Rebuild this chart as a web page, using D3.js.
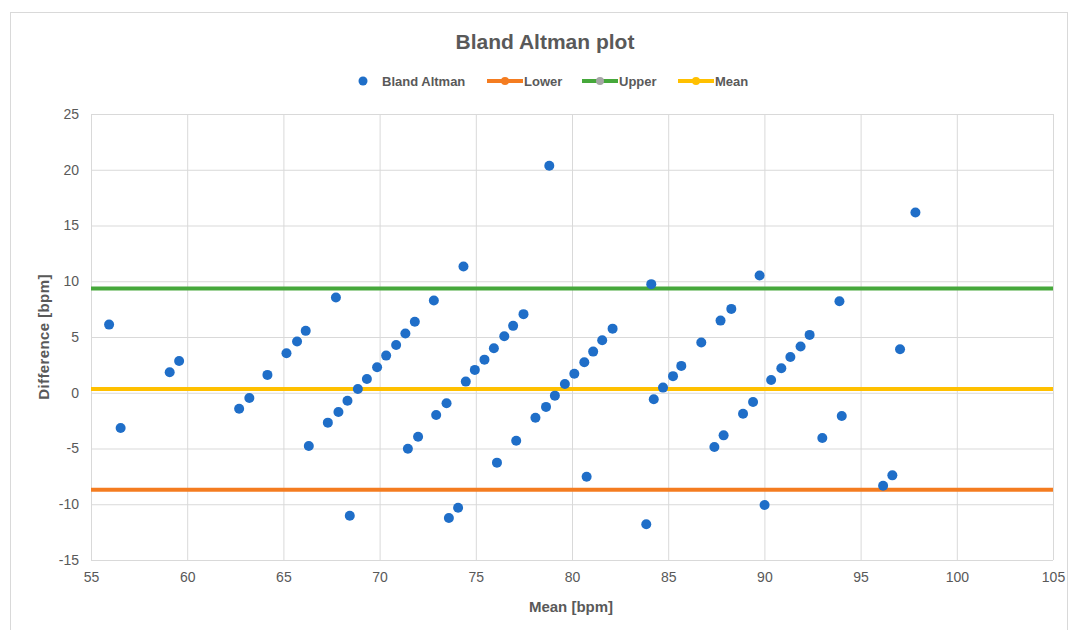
<!DOCTYPE html>
<html>
<head>
  <meta charset="utf-8">
  <title>Bland Altman plot</title>
  <style>
    body { margin: 0; background: #fff; }
    text { font-family: "Liberation Sans", Arial, sans-serif; fill: #595959; }
  </style>
</head>
<body>
<svg width="1072" height="630"></svg>
<script src="https://d3js.org/d3.v7.min.js"></script>
<script>

  // mean of the two methods [bpm]
  var meanBpm = [55.94, 56.54, 59.09, 59.58, 62.70, 63.23, 64.17, 65.16, 65.71, 66.16,
    66.32, 67.31, 67.86, 67.73, 68.33, 68.45, 68.87, 69.34, 69.87, 70.34,
    70.86, 71.34, 71.47, 71.83, 72.00, 72.82, 72.94, 73.48, 73.60, 74.08,
    74.36, 74.48, 74.95, 75.45, 75.94, 76.10, 76.48, 76.94, 77.10, 77.48,
    78.10, 78.65, 78.82, 79.11, 79.63, 80.12, 80.64, 80.76, 81.10, 81.57,
    82.11, 83.86, 84.12, 84.25, 84.73, 85.25, 85.68, 86.72, 87.40, 87.72,
    87.88, 88.28, 88.89, 89.41, 89.75, 90.01, 90.35, 90.88, 91.35, 91.88,
    92.35, 93.01, 93.90, 94.02, 96.17, 96.65, 97.05, 97.85]

  // difference between the two methods [bpm]
  var diffBpm = [6.11, -3.16, 1.84, 2.85, -1.43, -0.47, 1.60, 3.55, 4.59, 5.55,
    -4.78, -2.68, -1.72, 8.54, -0.71, -11.03, 0.34, 1.24, 2.29, 3.33,
    4.29, 5.31, -5.02, 6.36, -3.94, 8.27, -1.99, -0.94, -11.24, -10.31,
    11.32, 1.00, 2.05, 2.97, 3.99, -6.27, 5.07, 6.00, -4.30, 7.05,
    -2.24, -1.27, 20.36, -0.26, 0.79, 1.71, 2.74, -7.53, 3.69, 4.71,
    5.75, -11.80, 9.74, -0.58, 0.46, 1.49, 2.41, 4.50, -4.87, 6.47,
    -3.82, 7.52, -1.88, -0.83, 10.51, -10.07, 1.15, 2.20, 3.21, 4.14,
    5.19, -4.06, 8.20, -2.08, -8.34, -7.41, 3.90, 16.17]

  var lineNames = ['Lower', 'Upper', 'Mean']
  var lineValues = [-8.69, 9.35, 0.33]
  var lineColors = ['#f47c20', '#46a83b', '#ffc000']
  var lineMarkers = ['#f47c20', '#a5a5a5', '#ffc000']
  var lineSpan = [55, 105]

  var xTicks = [55, 60, 65, 70, 75, 80, 85, 90, 95, 100, 105]
  var yTicks = [-15, -10, -5, 0, 5, 10, 15, 20, 25]

  var svg = d3.select('svg')
  var margin = {top: 114, right: 19, bottom: 70, left: 91}
  var width = +svg.attr('width') - margin.left - margin.right
  var height = +svg.attr('height') - margin.top - margin.bottom

  // chart frame
  svg.append('rect')
    .attr('x', 10.5).attr('y', 12.5)
    .attr('width', 1057).attr('height', 630)
    .attr('fill', 'none').attr('stroke', '#d9d9d9')

  var g = svg.append('g').attr('transform', 'translate(' + margin.left + ',' + margin.top + ')')

  var x = d3.scaleLinear().domain([55, 105]).range([0, width])
  var y = d3.scaleLinear().domain([-15, 25]).range([height, 0])

  // grid
  g.append('g')
    .attr('transform', 'translate(0,' + height + ')')
    .call(d3.axisBottom(x).tickValues(xTicks).tickSize(-height).tickFormat(''))
    .call(function (s) { s.select('.domain').remove() })
    .selectAll('line').attr('stroke', '#d9d9d9')

  g.append('g')
    .call(d3.axisLeft(y).tickValues(yTicks).tickSize(-width).tickFormat(''))
    .call(function (s) { s.select('.domain').remove() })
    .selectAll('line').attr('stroke', '#d9d9d9')

  // tick labels
  var fmt = function (d) { return String(d) }
  g.append('g')
    .attr('transform', 'translate(0,' + height + ')')
    .call(d3.axisBottom(x).tickValues(xTicks).tickSize(0).tickPadding(12).tickFormat(fmt))
    .call(function (s) { s.select('.domain').remove() })
    .selectAll('text').style('font-size', '14px').attr('fill', '#595959')

  g.append('g')
    .call(d3.axisLeft(y).tickValues(yTicks).tickSize(0).tickPadding(12).tickFormat(fmt))
    .call(function (s) { s.select('.domain').remove() })
    .selectAll('text').style('font-size', '14px').attr('fill', '#595959')

  // reference lines
  lineValues.forEach(function (v, i) {
    g.append('line')
      .attr('x1', x(lineSpan[0])).attr('x2', x(lineSpan[1]))
      .attr('y1', y(v)).attr('y2', y(v))
      .attr('stroke', lineColors[i]).attr('stroke-width', 4)
  })

  // points
  g.selectAll('circle.pt')
    .data(meanBpm.map(function (m, i) { return {m: m, d: diffBpm[i]} }))
    .enter().append('circle')
    .attr('class', 'pt')
    .attr('cx', function (d) { return x(d.m) })
    .attr('cy', function (d) { return y(d.d) })
    .attr('r', 5)
    .attr('fill', '#1f6ec8')

  // title
  svg.append('text')
    .attr('x', 545).attr('y', 49)
    .attr('text-anchor', 'middle')
    .style('font-size', '21px').style('font-weight', 'bold')
    .text('Bland Altman plot')

  // axis titles
  svg.append('text')
    .attr('x', 571).attr('y', 612)
    .attr('text-anchor', 'middle')
    .style('font-size', '15px').style('font-weight', 'bold')
    .text('Mean [bpm]')

  svg.append('text')
    .attr('transform', 'translate(49,337) rotate(-90)')
    .attr('text-anchor', 'middle')
    .style('font-size', '15px').style('font-weight', 'bold')
    .style('letter-spacing', '0.4px')
    .text('Difference [bpm]')

  // legend
  var legend = svg.append('g').attr('transform', 'translate(0,81)')
  legend.append('circle').attr('cx', 363).attr('cy', 0).attr('r', 4.5).attr('fill', '#1f6ec8')
  legend.append('text').attr('x', 382).attr('y', 5)
    .style('font-size', '13px').style('font-weight', 'bold').text('Bland Altman')

  var legendX = [487, 582, 678]
  lineNames.forEach(function (name, i) {
    var lx = legendX[i]
    legend.append('line')
      .attr('x1', lx).attr('x2', lx + 36).attr('y1', 0).attr('y2', 0)
      .attr('stroke', lineColors[i]).attr('stroke-width', 4)
    legend.append('circle').attr('cx', lx + 18).attr('cy', 0).attr('r', 4).attr('fill', lineMarkers[i])
    legend.append('text').attr('x', lx + 37).attr('y', 5)
      .style('font-size', '13px').style('font-weight', 'bold').text(name)
  })

</script>
</body>
</html>
